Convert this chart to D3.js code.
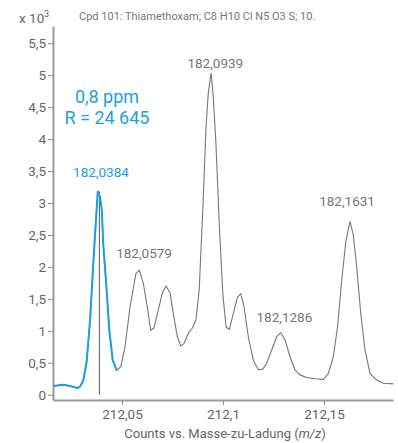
<!DOCTYPE html>
<html>
<head>
<meta charset="utf-8">
<script src="https://cdn.jsdelivr.net/npm/d3@7"></script>
<style>
  html, body { margin: 0; padding: 0; background: #fff; }
  svg { display: block; font-family: Roboto, "Noto Sans", sans-serif; }
</style>
</head>
<body>
<svg id="chart" width="398" height="443"></svg>
<script>
// ---- data ----
const mz = [212.0160, 212.0209, 212.0243, 212.0279, 212.0292, 212.0308, 212.0325, 212.0342, 212.0358, 212.0368,
  212.0380, 212.0391, 212.0400, 212.0407, 212.0424, 212.0437, 212.0454, 212.0474, 212.0494, 212.0515,
  212.0540, 212.0569, 212.0586, 212.0605, 212.0625, 212.0642, 212.0658, 212.0680, 212.0700, 212.0718,
  212.0738, 212.0754, 212.0774, 212.0791, 212.0807, 212.0828, 212.0848, 212.0866, 212.0882, 212.0900,
  212.0916, 212.0927, 212.0941, 212.0952, 212.0965, 212.0982, 212.0999, 212.1015, 212.1031, 212.1051,
  212.1071, 212.1088, 212.1104, 212.1125, 212.1150, 212.1175, 212.1197, 212.1216, 212.1241, 212.1266,
  212.1286, 212.1307, 212.1332, 212.1356, 212.1381, 212.1414, 212.1455, 212.1497, 212.1521, 212.1546,
  212.1567, 212.1588, 212.1609, 212.1629, 212.1645, 212.1662, 212.1682, 212.1703, 212.1728, 212.1761,
  212.1794, 212.1843];
const counts = [0.136, 0.156, 0.136, 0.105, 0.125, 0.219, 0.516, 1.17, 2.06, 2.58,
  3.18, 3.10, 2.89, 2.37, 1.64, 1.01, 0.54, 0.38, 0.44, 0.75,
  1.38, 1.90, 1.95, 1.75, 1.38, 1.01, 1.04, 1.33, 1.59, 1.70,
  1.59, 1.27, 0.91, 0.76, 0.80, 0.96, 1.04, 1.17, 1.64, 2.89,
  4.19, 4.72, 5.03, 4.66, 3.93, 2.63, 1.59, 1.06, 1.02, 1.27,
  1.52, 1.58, 1.38, 0.91, 0.54, 0.39, 0.40, 0.49, 0.70, 0.91,
  0.97, 0.86, 0.59, 0.39, 0.31, 0.27, 0.25, 0.24, 0.33, 0.59,
  1.06, 1.80, 2.42, 2.71, 2.50, 2.00, 1.27, 0.70, 0.33, 0.23,
  0.18, 0.17];
const highlightEnd = 212.0474;           // blue part of the trace ends here
const markerMz = 212.0388;               // vertical marker
const markerCount = 3.18;

const peakLabels = ["182,0384", "182,0579", "182,0939", "182,1286", "182,1631"];
const peakMz = [212.0396, 212.0609, 212.0962, 212.1304, 212.1614];
const peakLabelCount = [3.41, 2.14, 5.11, 1.13, 2.95];

const xTicks = [212.05, 212.1, 212.15];
const yTicks = [0, 0.5, 1, 1.5, 2, 2.5, 3, 3.5, 4, 4.5, 5, 5.5];
const titleText = "Cpd 101: Thiamethoxam; C8 H10 Cl N5 O3 S; 10.";
const noteLines = ["0,8 ppm", "R = 24 645"];

// ---- chart ----
const svg = d3.select("#chart");
const BLUE = "#1ba1db";
const x = d3.scaleLinear().domain([212.01584, 212.18416]).range([53, 393]);
const y = d3.scaleLinear().domain([-0.083, 5.77]).range([400, 26]);
const fmt = v => String(+v.toFixed(3)).replace(".", ",");

// y axis
const yAxis = svg.append("g").attr("transform", "translate(53,0)")
  .call(d3.axisLeft(y).tickValues(yTicks).tickSize(5).tickSizeOuter(0).tickPadding(2).tickFormat(fmt));
yAxis.select(".domain").attr("stroke", "#9a9a9a").attr("stroke-width", 2);
yAxis.selectAll(".tick line").attr("stroke", "#8a8a8a").attr("stroke-width", 1);
yAxis.selectAll(".tick text").attr("fill", "#666").attr("font-size", 13.5).attr("font-family", "Roboto");

// x axis
const xAxis = svg.append("g").attr("transform", "translate(0,400)")
  .call(d3.axisBottom(x).tickValues(xTicks).tickSize(5).tickSizeOuter(0).tickPadding(4).tickFormat(fmt));
xAxis.select(".domain").attr("stroke", "#9a9a9a").attr("stroke-width", 2);
xAxis.selectAll(".tick line").attr("stroke", "#8a8a8a").attr("stroke-width", 1);
xAxis.selectAll(".tick text").attr("fill", "#666").attr("font-size", 13.5).attr("font-family", "Roboto");

// axis title
const xt = svg.append("text").attr("x", 225).attr("y", 437.5).attr("text-anchor", "middle")
  .attr("fill", "#666").attr("font-size", 13);
xt.append("tspan").text("Counts vs. Masse-zu-Ladung (");
xt.append("tspan").attr("font-style", "italic").text("m/z");
xt.append("tspan").text(")");

// x 10^3
const ex = svg.append("text").attr("x", 19).attr("y", 23).attr("fill", "#666").attr("font-size", 13.5);
ex.append("tspan").text("x 10");
ex.append("tspan").attr("font-size", 8.5).attr("dy", -6).text("3");

// title
svg.append("text").attr("x", 79).attr("y", 20).attr("fill", "#777").attr("font-size", 11).text(titleText);

// data
const pts = mz.map((m, i) => [m, counts[i]]);
const line = d3.line().x(d => x(d[0])).y(d => y(d[1]));

svg.append("path").attr("d", line(pts)).attr("fill", "none").attr("stroke", "#777").attr("stroke-width", 1.1)
  .attr("stroke-linejoin", "round");

svg.append("line").attr("x1", x(markerMz)).attr("x2", x(markerMz)).attr("y1", y(0)).attr("y2", y(markerCount))
  .attr("stroke", "#555").attr("stroke-width", 1);

svg.append("path").attr("d", line(pts.filter(d => d[0] <= highlightEnd + 1e-9))).attr("fill", "none")
  .attr("stroke", BLUE).attr("stroke-width", 2).attr("stroke-linejoin", "round");

// peak labels
svg.selectAll("text.peak").data(peakLabels).enter().append("text").attr("class", "peak")
  .attr("x", (d, i) => x(peakMz[i])).attr("y", (d, i) => y(peakLabelCount[i]))
  .attr("text-anchor", "middle").attr("font-size", 13.5)
  .attr("fill", (d, i) => i === 0 ? BLUE : "#777").text(d => d);

// note
svg.selectAll("text.note").data(noteLines).enter().append("text").attr("class", "note")
  .attr("x", 107).attr("y", (d, i) => 103 + i * 21).attr("text-anchor", "middle")
  .attr("font-size", 18).attr("fill", BLUE).text(d => d);
</script>
</body>
</html>
